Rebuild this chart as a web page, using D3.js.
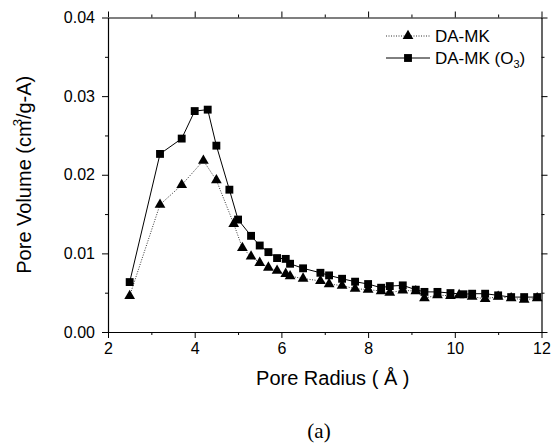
<!DOCTYPE html>
<html>
<head>
<meta charset="utf-8">
<script src="https://cdnjs.cloudflare.com/ajax/libs/d3/7.8.5/d3.min.js"></script>
<style>
html,body{margin:0;padding:0;background:#fff;}
text{font-family:"Liberation Sans",sans-serif;fill:#000;}
</style>
</head>
<body>
<svg id="chart" width="557" height="446"></svg>
<script>
// Data
const radiusO3 = [2.5,3.2,3.7,4.0,4.3,4.5,4.8,5.0,5.3,5.5,5.7,5.9,6.1,6.2,6.5,6.9,7.1,7.4,7.7,8.0,8.3,8.5,8.8,9.1,9.3,9.6,9.9,10.2,10.4,10.7,11.0,11.3,11.6,11.9];
const volumeO3 = [0.00635,0.02265,0.0246,0.0281,0.02828,0.0237,0.0181,0.0143,0.01223,0.0110,0.01016,0.0094,0.0093,0.00868,0.0081,0.00753,0.0072,0.00677,0.0064,0.0061,0.00563,0.00584,0.00593,0.00538,0.0051,0.0051,0.00495,0.0048,0.00487,0.00487,0.00466,0.00444,0.00444,0.00444];
const radiusMK = [2.5,3.2,3.7,4.2,4.5,4.9,5.1,5.3,5.5,5.7,5.9,6.1,6.2,6.5,6.9,7.1,7.4,7.7,8.0,8.3,8.5,8.8,9.1,9.3,9.6,9.9,10.1,10.4,10.7,11.0,11.3,11.6,11.9];
const volumeMK = [0.0046,0.0162,0.0187,0.0218,0.0193,0.01376,0.0107,0.0096,0.0088,0.0082,0.0078,0.0074,0.0071,0.0068,0.0065,0.0061,0.0059,0.0055,0.0054,0.0052,0.0050,0.0053,0.0052,0.0043,0.0047,0.0046,0.0047,0.0045,0.0042,0.0045,0.0043,0.0041,0.0043];
const xTicks = [2,4,6,8,10,12];
const xMinor = [3,5,7,9,11];
const yTicks = [0,0.01,0.02,0.03,0.04];
const yMinor = [0.005,0.015,0.025,0.035];
const seriesNames = ["DA-MK","DA-MK (O3)"];

const SANS = "'Liberation Sans', sans-serif";
const svg = d3.select("#chart");
const L = 108, R = 541.5, T = 17.5, B = 332;
const x = d3.scaleLinear().domain([2,12]).range([L,R]);
const y = d3.scaleLinear().domain([0,0.04]).range([B,T]);

const g = svg.append("g");

function styleAxis(sel){
  sel.selectAll(".domain").attr("stroke","#000").attr("stroke-width",1.2);
  sel.selectAll(".tick line").attr("stroke","#000").attr("stroke-width",1);
  sel.selectAll("text").style("font-family",SANS).style("font-size","16px").attr("fill","#000");
}
function minor(sel){ sel.select(".domain").remove(); sel.selectAll("line").attr("stroke","#000"); }

// bottom
styleAxis(g.append("g").attr("transform",`translate(0,${B})`)
  .call(d3.axisBottom(x).tickValues(xTicks).tickSize(6).tickSizeOuter(0).tickPadding(5).tickFormat(d3.format("d"))));
g.append("g").attr("transform",`translate(0,${B})`)
  .call(d3.axisBottom(x).tickValues(xMinor).tickSize(3).tickSizeOuter(0).tickFormat("")).call(minor);
// top
styleAxis(g.append("g").attr("transform",`translate(0,${T})`)
  .call(d3.axisTop(x).tickValues(xTicks).tickSize(6).tickSizeOuter(0).tickFormat("")));
g.append("g").attr("transform",`translate(0,${T})`)
  .call(d3.axisTop(x).tickValues(xMinor).tickSize(3).tickSizeOuter(0).tickFormat("")).call(minor);
// left
styleAxis(g.append("g").attr("transform",`translate(${L},0)`)
  .call(d3.axisLeft(y).tickValues(yTicks).tickSize(6).tickSizeOuter(0).tickPadding(7).tickFormat(d3.format(".2f"))));
g.append("g").attr("transform",`translate(${L},0)`)
  .call(d3.axisLeft(y).tickValues(yMinor).tickSize(3).tickSizeOuter(0).tickFormat("")).call(minor);
// right
styleAxis(g.append("g").attr("transform",`translate(${R},0)`)
  .call(d3.axisRight(y).tickValues(yTicks).tickSize(6).tickSizeOuter(0).tickFormat("")));
g.append("g").attr("transform",`translate(${R},0)`)
  .call(d3.axisRight(y).tickValues(yMinor).tickSize(3).tickSizeOuter(0).tickFormat("")).call(minor);

// lines
const dMK = radiusMK.map((r,i)=>[r,volumeMK[i]]);
const dO3 = radiusO3.map((r,i)=>[r,volumeO3[i]]);
const line = d3.line().x(d=>x(d[0])).y(d=>y(d[1]));

g.append("path").datum(dMK).attr("d",line).attr("fill","none")
  .attr("stroke","#333").attr("stroke-width",1).attr("stroke-dasharray","1,1.5");
g.append("path").datum(dO3).attr("d",line).attr("fill","none")
  .attr("stroke","#000").attr("stroke-width",1);

const tri = d3.symbol().type(d3.symbolTriangle).size(50);
const sq = d3.symbol().type(d3.symbolSquare).size(62);

g.selectAll(".tri").data(dMK).enter().append("path")
  .attr("d",tri).attr("transform",d=>`translate(${x(d[0])},${y(d[1])})`).attr("fill","#000");
g.selectAll(".sq").data(dO3).enter().append("path")
  .attr("d",sq).attr("transform",d=>`translate(${x(d[0])},${y(d[1])})`).attr("fill","#000");

// legend
const lg = svg.append("g");
lg.append("line").attr("x1",386).attr("x2",430).attr("y1",36).attr("y2",36)
  .attr("stroke","#333").attr("stroke-width",1).attr("stroke-dasharray","1,1.5");
lg.append("path").attr("d",tri).attr("transform","translate(408,36)").attr("fill","#000");
lg.append("text").attr("x",435).attr("y",42).style("font-family",SANS).style("font-size","17px").text(seriesNames[0]);
lg.append("line").attr("x1",386).attr("x2",430).attr("y1",58).attr("y2",58)
  .attr("stroke","#000").attr("stroke-width",1);
lg.append("path").attr("d",sq).attr("transform","translate(408,58)").attr("fill","#000");
const t2 = lg.append("text").attr("x",435).attr("y",64).style("font-family",SANS).style("font-size","17px");
t2.append("tspan").text("DA-MK (O");
t2.append("tspan").attr("dy",4).style("font-size","11px").text("3");
t2.append("tspan").attr("dy",-4).text(")");

// axis titles
svg.append("text").attr("x",(L+R)/2+8).attr("y",385).attr("text-anchor","middle")
  .style("font-family",SANS).style("font-size","20px").text("Pore Radius ( Å )");
const yt = svg.append("text").attr("transform",`translate(31,${(T+B)/2}) rotate(-90)`)
  .attr("text-anchor","middle").style("font-family",SANS).style("font-size","20px");
yt.append("tspan").text("Pore Volume (cm");
yt.append("tspan").attr("dx",-6).attr("dy",-9).style("font-size","13px").text("3");
yt.append("tspan").attr("dy",9).text("/g-A)");

svg.append("text").attr("x",319).attr("y",438).attr("text-anchor","middle")
  .style("font-family","'Liberation Serif',serif").style("font-size","21px").text("(a)");
</script>
</body>
</html>
